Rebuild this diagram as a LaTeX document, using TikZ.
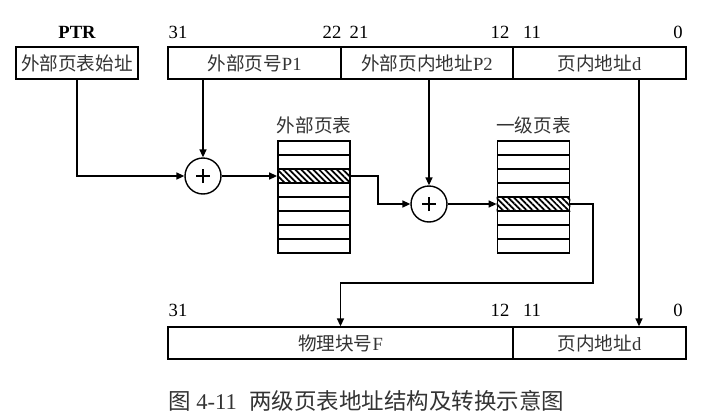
\documentclass[tikz,border=0pt]{standalone}
\usepackage{fontspec}
\setmainfont{Liberation Serif}
\newfontfamily\cjk{Noto Sans CJK SC}
\usetikzlibrary{arrows.meta,patterns.meta,positioning}

\begin{document}
\begin{tikzpicture}[x=.02cm,y=-.02cm,>={Triangle[length=4.5pt,width=4pt]},
  every node/.style={font=\fontsize{10.6}{12}\selectfont},
  field/.style={draw,line width=.8pt,minimum height=.64cm,inner sep=0pt,
    text=black!80},
  bitno/.style={inner sep=0pt},
  row/.style={draw,line width=1.1pt,minimum width=1.44cm,minimum height=.28cm,
    inner sep=0pt},
  hatch/.style={pattern={Lines[angle=-45,distance=2.4pt,line width=1pt]}},
  adder/.style={draw,circle,line width=.8pt,minimum size=.72cm,inner sep=0pt,
    path picture={\draw[line width=1.1pt]
      ([xshift=-.14cm]path picture bounding box.center) -- ++(.28cm,0)
      ([yshift=-.14cm]path picture bounding box.center) -- ++(0,.28cm);}},
  caption/.style={anchor=west,inner sep=0pt,text=black!80,
    font=\fontsize{12.8}{14}\selectfont},
  link/.style={->,line width=.8pt}]
 \useasboundingbox (0,0) rectangle (717,417);
 % logical address
 \node[bitno] (ptrlbl) at (77,32) {\bfseries PTR};
 \node[field,minimum width=2.44cm] (ptr) at (77,63) {\cjk 外部页表始址};
 \node[field,minimum width=3.46cm] (p1) at (254.5,63) {{\cjk 外部页号}P1};
 \node[field,minimum width=3.44cm] (p2) at (427,63) {{\cjk 外部页内地址}P2};
 \node[field,minimum width=3.46cm] (d) at (599.5,63) {{\cjk 页内地址}d};
 \node[bitno] (b31) at (178,32) {31};
 \node[bitno] (b22) at (332,32) {22};
 \node[bitno] (b21) at (359,32) {21};
 \node[bitno] (b12) at (500,32) {12};
 \node[bitno] (b11) at (532,32) {11};
 \node[bitno] (b0) at (678,32) {0};
 % adders and page tables
 \node[adder] (add1) at (203,176) {};
 \node[adder] (add2) at (429,204) {};
 \node[text=black!80] (otlbl) at (314,125) {\cjk 外部页表};
 \node[text=black!80] (ltlbl) at (533.5,125) {\cjk 一级页表};
 \foreach \i in {1,...,8}{
   \node[row] (ot\i) at (314,134+14*\i) {};
   \node[row] (lt\i) at (533.5,134+14*\i) {};
 }
 \fill[hatch] (ot3.north west) rectangle (ot3.south east);
 \fill[hatch] (lt5.north west) rectangle (lt5.south east);
 % physical address
 \node[field,minimum width=6.9cm] (f) at (340.5,343) {{\cjk 物理块号}F};
 \node[field,minimum width=3.46cm] (dd) at (599.5,343) {{\cjk 页内地址}d};
 \node[bitno] (c31) at (178,310) {31};
 \node[bitno] (c12) at (500,310) {12};
 \node[bitno] (c11) at (532,310) {11};
 \node[bitno] (c0) at (678,310) {0};
 \coordinate (turn) at (593,283);
 \draw[link] (ptr.south) |- (add1.west);
 \draw[link] (add1 |- p1.south) -- (add1.north);
 \draw[link] (add1) -- (ot3);
 \draw[link] (ot3.east) -- ++(27,0) |- (add2.west);
 \draw[link] (add2 |- p2.south) -- (add2.north);
 \draw[link] (add2) -- (lt5);
 \draw[link] (lt5.east) -| (turn) -| (f.north);
 \draw[link] ([xshift=.79cm]d.south) coordinate (dtap) -- (dtap |- dd.north);
 % caption
 \node[caption] (capno) at (168,401) {{\cjk 图} 4-11};
 \node[caption] (cap) at (249,401) {\cjk 两级页表地址结构及转换示意图};
\end{tikzpicture}
\end{document}
